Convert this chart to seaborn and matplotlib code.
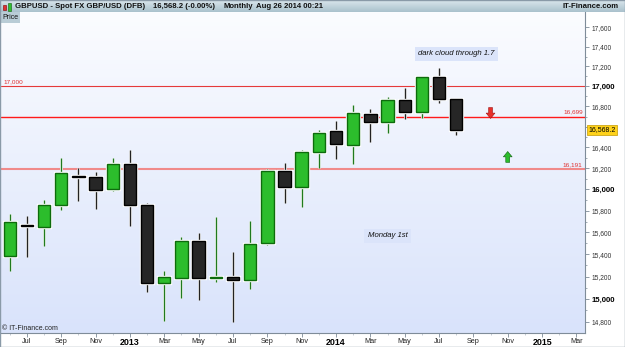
import numpy as np
import pandas as pd
import matplotlib
matplotlib.use("Agg")
import matplotlib.pyplot as plt
import matplotlib.transforms as mtransforms
from matplotlib.patches import Rectangle
from matplotlib import patheffects as pe
from matplotlib.ticker import FixedLocator, FixedFormatter, NullFormatter
from matplotlib.colors import LinearSegmentedColormap
import seaborn as sns

# ---------------- data (GBPUSD x 10000, monthly) ----------------
months = ["2012-06", "2012-07", "2012-08", "2012-09", "2012-10", "2012-11", "2012-12",
          "2013-01", "2013-02", "2013-03", "2013-04", "2013-05", "2013-06", "2013-07",
          "2013-08", "2013-09", "2013-10", "2013-11", "2013-12", "2014-01", "2014-02",
          "2014-03", "2014-04", "2014-05", "2014-06", "2014-07", "2014-08"]
opens = [15388, 15665, 15653, 15857, 16125, 16117, 16007,
         16238, 15854, 15146, 15185, 15522, 15190, 15192,
         15167, 15501, 16174, 16025, 16359, 16559, 16420,
         16722, 16650, 16861, 16742, 17090, 16871]
highs = [15770, 15752, 15901, 16298, 16203, 16165, 16298,
         16375, 15870, 15248, 15556, 15592, 15740, 15419,
         15708, 16190, 16247, 16375, 16569, 16659, 16814,
         16775, 16890, 16983, 17103, 17181, 16880]
lows = [15250, 15374, 15476, 15807, 15894, 15814, 15988,
        15659, 15066, 14811, 15013, 14993, 15150, 14797,
        15090, 15488, 15875, 15838, 16200, 16291, 16238,
        16455, 16542, 16679, 16689, 16837, 16523]
closes = [15694, 15655, 15851, 16155, 16115, 15997, 16238,
          15857, 15146, 15194, 15522, 15185, 15198, 15172,
          15492, 16174, 16025, 16353, 16542, 16430, 16732,
          16650, 16861, 16742, 17090, 16871, 16568]

tick_pos = [1, 3, 5, 7, 9, 11, 13, 15, 17, 19, 21, 23, 25, 27, 29, 31, 33]
tick_labels = ["Jul", "Sep", "Nov", "2013", "Mar", "May", "Jul", "Sep", "Nov",
               "2014", "Mar", "May", "Jul", "Sep", "Nov", "2015", "Mar"]
y_ticks = list(range(14800, 17601, 200))

levels = [17000, 16699, 16191]
level_labels = ["17,000", "16,699", "16,191"]
last_price = 16568.2

notes = ["dark cloud through 1.7", "Monday 1st"]
note_month = [26, 22]
note_price = [17326, 15568]

arrow_month = [28, 29]
arrow_price = [16735, 16308]
arrow_dir = ["down", "up"]

# ---------------- theme ----------------
sns.set_theme(style="white")
plt.rcParams["font.family"] = ["Liberation Sans", "DejaVu Sans"]

W, H = 625, 347
fig = plt.figure(figsize=(W / 100, H / 100), dpi=100)
fig.patch.set_facecolor("white")

rect = [1 / W, 14 / H, 584 / W, 321 / H]

# background gradient
bg = fig.add_axes(rect, zorder=0)
grad = np.linspace(0, 1, 256).reshape(-1, 1)
cm_bg = LinearSegmentedColormap.from_list("bg", ["#fbfcff", "#d9e3fb"])
bg.imshow(grad, aspect="auto", cmap=cm_bg, extent=[0, 1, 0, 1], origin="upper")
bg.set_axis_off()

ax = fig.add_axes(rect, zorder=1)
ax.set_facecolor("none")

df = pd.DataFrame({"month": months, "open": opens, "high": highs,
                   "low": lows, "close": closes})
df["i"] = np.arange(len(df))
df["up"] = df["close"] >= df["open"]
df["bottom"] = df[["open", "close"]].min(axis=1)
df["height"] = (df["close"] - df["open"]).abs()

green_face, green_edge = "#2cbd2c", "#0d6b0d"
black_face, black_edge = "#262626", "#000000"

wick_cols = [("#1f7a1f" if u else "#222222") for u in df["up"]]
ax.vlines(df["i"], df["low"], df["high"], colors=wick_cols, lw=1.0, zorder=2,
          path_effects=[pe.withStroke(linewidth=2.0, foreground="white")])

bars = ax.bar(df["i"], df["height"], bottom=df["bottom"], width=0.72,
              color=[green_face if u else black_face for u in df["up"]],
              edgecolor=[green_edge if u else black_edge for u in df["up"]],
              linewidth=1.0, zorder=3)
for b in bars:
    b.set_path_effects([pe.withStroke(linewidth=2.4, foreground="white")])

# levels
lv_style = [("#e53a3a", 0.8), ("#ff1a1a", 1.0), ("#f08a8a", 1.5)]
for lv, lab, (c, lw) in zip(levels, level_labels, lv_style):
    ax.axhline(lv, color=c, lw=lw, zorder=1.5)
trans = mtransforms.blended_transform_factory(ax.transAxes, ax.transData)
ax.text(0.004, levels[0] * 1.0012, level_labels[0], transform=trans,
        ha="left", va="bottom", fontsize=4.6, color="#e03030")
for lv, lab in zip(levels[1:], level_labels[1:]):
    ax.text(0.996, lv * 1.0012, lab, transform=trans, ha="right", va="bottom",
            fontsize=4.6, color="#e03030")

# notes
for t, m, p in zip(notes, note_month, note_price):
    ax.text(m, p, t, ha="center", va="center", fontsize=5.6, style="italic",
            color="#111111", zorder=4,
            bbox=dict(boxstyle="square,pad=0.45", fc="#dbe4fa", ec="none"))

# arrows (block arrows with shaft)
astyle = "simple,head_width=0.9,head_length=0.55,tail_width=0.4"
for m, p, d in zip(arrow_month, arrow_price, arrow_dir):
    if d == "down":
        ax.annotate("", xy=(m, p * 0.9968), xytext=(m, p * 1.0032),
                    arrowprops=dict(arrowstyle=astyle, mutation_scale=7,
                                    fc="#e8302a", ec="#9a1010", lw=0.4,
                                    shrinkA=0, shrinkB=0), zorder=4)
    else:
        ax.annotate("", xy=(m, p * 1.0032), xytext=(m, p * 0.9968),
                    arrowprops=dict(arrowstyle=astyle, mutation_scale=7,
                                    fc="#2cbd2c", ec="#106010", lw=0.4,
                                    shrinkA=0, shrinkB=0), zorder=4)

# axes / scales
ax.set_yscale("log")
ax.set_xlim(-0.51, 33.5)
ax.set_ylim(14704, 17759)

ax.yaxis.tick_right()
ax.yaxis.set_label_position("right")
ax.yaxis.set_major_locator(FixedLocator(y_ticks))
# the 16,600 label is hidden behind the last-price box in the reference
ax.yaxis.set_major_formatter(FixedFormatter(
    ["" if abs(v - last_price) < 100 else f"{v:,}" for v in y_ticks]))
ax.yaxis.set_minor_locator(FixedLocator([v + 100 for v in y_ticks[:-1]]))
ax.yaxis.set_minor_formatter(NullFormatter())
ax.tick_params(axis="y", which="major", direction="out", length=3, width=0.6,
               color="#7f8c99", pad=1.5, labelsize=4.8, labelcolor="#333333",
               right=True, left=False)
ax.tick_params(axis="y", which="minor", direction="out", length=1.5, width=0.5,
               color="#7f8c99", right=True, left=False)
for lab, v in zip(ax.get_yticklabels(), y_ticks):
    if v % 1000 == 0:
        lab.set_fontweight("bold")
        lab.set_fontsize(5.6)
        lab.set_color("#000000")

ax.set_xticks(tick_pos)
ax.set_xticklabels(tick_labels)
ax.xaxis.set_minor_locator(FixedLocator(list(range(0, 34))))
ax.tick_params(axis="x", which="major", direction="out", length=3, width=0.6,
               color="#7f8c99", pad=0.5, labelsize=5.2, labelcolor="#222222",
               bottom=True)
ax.tick_params(axis="x", which="minor", direction="out", length=1.2, width=0.4,
               color="#9aa5b0", bottom=True)
for lab, t in zip(ax.get_xticklabels(), tick_labels):
    if t.isdigit():
        lab.set_fontweight("bold")
        lab.set_fontsize(6.4)
        lab.set_color("#000000")

for s in ["top", "left"]:
    ax.spines[s].set_visible(False)
for s in ["right", "bottom"]:
    ax.spines[s].set_color("#7f8c99")
    ax.spines[s].set_linewidth(0.8)
ax.grid(False)
ax.set_xlabel("")
ax.set_ylabel("")

# last-price box
ax.annotate(f"{last_price:,.1f}", xy=(1.006, last_price), xycoords=trans,
            ha="left", va="center", fontsize=5.0, color="#000000", zorder=6,
            annotation_clip=False,
            bbox=dict(boxstyle="square,pad=0.2", fc="#ffd21a", ec="#c49a00", lw=0.5))

# header bar
hd = fig.add_axes([0, 1 - 12 / H, 1, 12 / H], zorder=2)
cm_hd = LinearSegmentedColormap.from_list("hd", ["#dbe7ed", "#a9c1cc"])
hd.imshow(grad, aspect="auto", cmap=cm_hd, extent=[0, 1, 0, 1], origin="upper")
hd.set_axis_off()
hy = 1 - 6.2 / H
fig.text(15 / W, hy, "GBPUSD - Spot FX GBP/USD (DFB)", fontsize=5.6, fontweight="bold",
         color="#111111", va="center", zorder=3)
fig.text(153 / W, hy, "16,568.2 (-0.00%)", fontsize=5.6, fontweight="bold",
         color="#111111", va="center", zorder=3)
fig.text(223 / W, hy, "Monthly", fontsize=5.6, fontweight="bold",
         color="#111111", va="center", zorder=3)
fig.text(256 / W, hy, "Aug 26 2014 00:21", fontsize=5.6, fontweight="bold",
         color="#111111", va="center", zorder=3)
fig.text(619 / W, hy, "IT-Finance.com", fontsize=5.6, fontweight="bold",
         color="#111111", va="center", ha="right", zorder=3)
# small candle icon
fig.patches.append(Rectangle((3 / W, 1 - 10 / H), 3 / W, 5 / H, transform=fig.transFigure,
                             fc="#e03030", ec="#800000", lw=0.4, zorder=4))
fig.patches.append(Rectangle((8 / W, 1 - 11 / H), 3 / W, 8 / H, transform=fig.transFigure,
                             fc="#30c030", ec="#106010", lw=0.4, zorder=4))

# "Price" label
fig.text(2.5 / W, 1 - 17.5 / H, "Price", fontsize=5.0, color="#111111", va="center",
         zorder=5, bbox=dict(boxstyle="square,pad=0.25", fc="#b9ccd6", ec="none"))

# copyright
fig.text(2 / W, 1 - 328.5 / H, "\u00a9 IT-Finance.com", fontsize=5.0, color="#222222",
         va="center", zorder=5)

# frame
fig.patches.append(Rectangle((0, 0), 1, 1, transform=fig.transFigure, fill=False,
                             ec="#8a9aa8", lw=1.0, zorder=10))

fig.savefig("out.png", dpi=100)
